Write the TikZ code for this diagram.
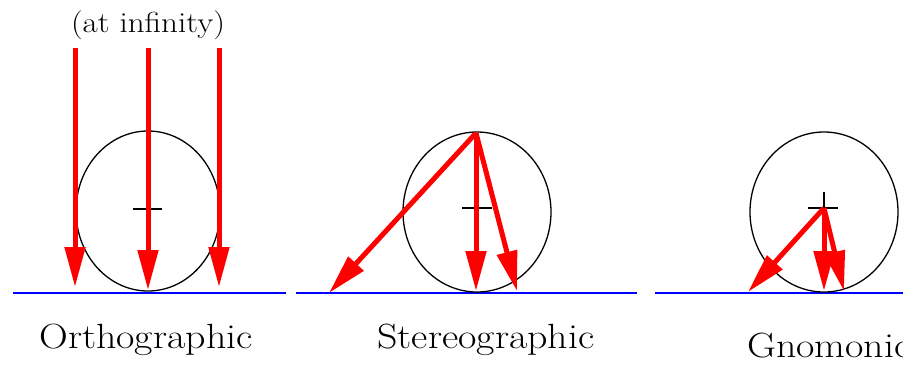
\documentclass[tikz,border=0pt]{standalone}
\usepackage{fontspec}
\newfontfamily\capfont[FakeStretch=1.14]{Latin Modern Roman}
\usetikzlibrary{arrows.meta}
\tikzset{
  ray/.style={draw=red, line width=5pt, -{Triangle[length=40pt,width=20pt]}},
  sphere/.style={draw=black, line width=1.3pt},
  plane/.style={draw=blue, line width=2pt},
  crosshair/.style={draw=black, line width=1.4pt},
  caption/.style={anchor=base, inner sep=0pt, font=\capfont\fontsize{35}{40}\selectfont},
  note/.style={anchor=base, inner sep=0pt, font=\capfont\fontsize{29}{34}\selectfont}
}
\begin{document}
\begin{tikzpicture}[x=1pt,y=-1pt]
\useasboundingbox (0,0) rectangle (903,368);
% centres
\coordinate (c1) at (148,211);
\coordinate (c2) at (477,212);
\coordinate (c3) at (824,212);
% planes
\coordinate (p1a) at (13,293); \coordinate (p1b) at (286,293);
\coordinate (p2a) at (296,293); \coordinate (p2b) at (637,293);
\coordinate (p3a) at (655,293); \coordinate (p3b) at (903,293);
\draw[plane] (p1a) -- (p1b);
\draw[plane] (p2a) -- (p2b);
\draw[plane] (p3a) -- (p3b);
% spheres
\draw[sphere] (c1) ellipse [x radius=72, y radius=80];
\draw[sphere] (c2) ellipse [x radius=74, y radius=80];
\draw[sphere] (c3) ellipse [x radius=74, y radius=80];
% cross hairs
\coordinate (h1a) at (133,209); \coordinate (h1b) at (162,209);
\coordinate (v1a) at (148,194); \coordinate (v1b) at (148,225);
\draw[crosshair] (h1a) -- (h1b);
\draw[crosshair] (v1a) -- (v1b);
\coordinate (h2a) at (462,208); \coordinate (h2b) at (492,208);
\coordinate (v2a) at (477,193); \coordinate (v2b) at (477,223);
\draw[crosshair] (h2a) -- (h2b);
\draw[crosshair] (v2a) -- (v2b);
\coordinate (h3a) at (808,208); \coordinate (h3b) at (838,208);
\coordinate (v3a) at (824,192); \coordinate (v3b) at (824,224);
\draw[crosshair] (h3a) -- (h3b);
\draw[crosshair] (v3a) -- (v3b);
% orthographic rays
\coordinate (o1s) at (75,48);  \coordinate (o1e) at (75,287);
\coordinate (o2s) at (148,48); \coordinate (o2e) at (148,290);
\coordinate (o3s) at (219,48); \coordinate (o3e) at (219,287);
\draw[ray] (o1s) -- (o1e);
\draw[ray] (o2s) -- (o2e);
\draw[ray] (o3s) -- (o3e);
% stereographic rays
\coordinate (s0) at (476,133);
\coordinate (s1) at (329,293);
\coordinate (s2) at (476,291);
\coordinate (s3) at (517,291);
\draw[ray] (s0) -- (s1);
\draw[ray] (s0) -- (s2);
\draw[ray] (s0) -- (s3);
% gnomonic rays
\coordinate (g0) at (824,208);
\coordinate (g1) at (748,292);
\coordinate (g2) at (824,291);
\coordinate (g3) at (844,291);
\draw[ray] (g0) -- (g1);
\draw[ray] (g0) -- (g2);
\draw[ray] (g0) -- (g3);
% labels
\node[note] (inf) at (148,32) {(at infinity)};
\node[caption] (ortho) at (146,348) {Orthographic};
\node[caption] (stereo) at (486,348) {Stereographic};
\node[caption, anchor=base west] (gnom) at (747,357) {Gnomonic};
\end{tikzpicture}
\end{document}
